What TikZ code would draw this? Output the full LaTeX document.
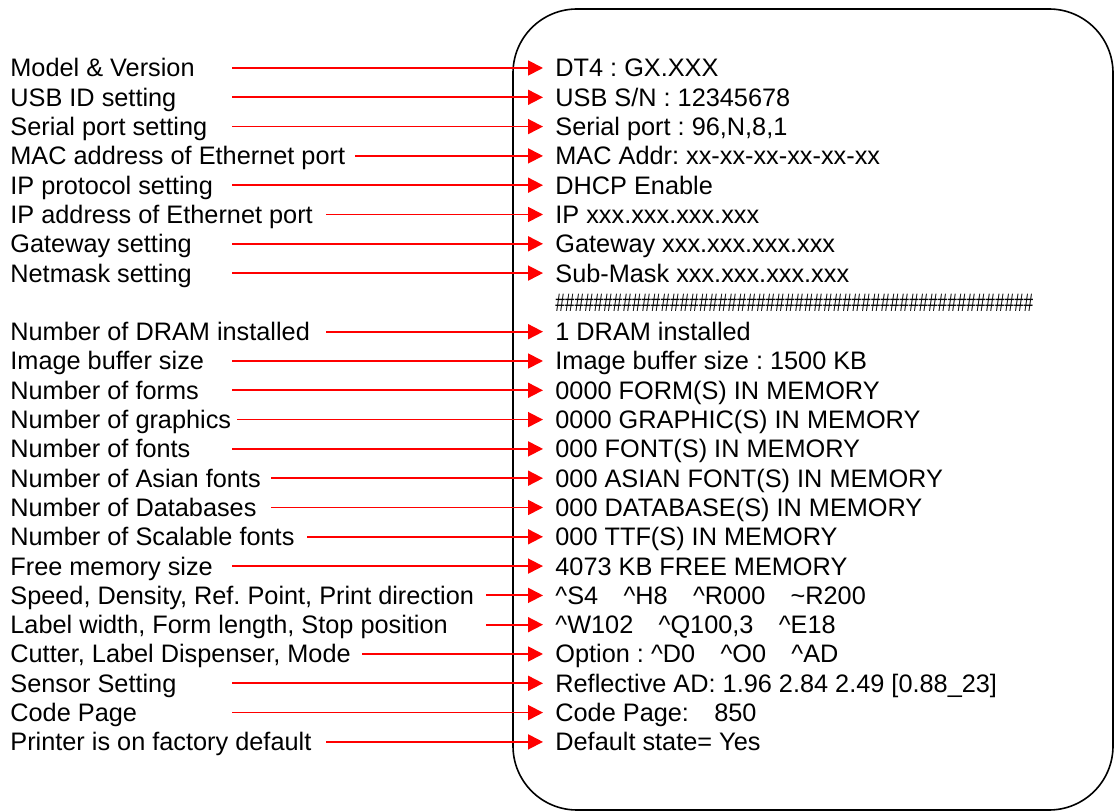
\documentclass[tikz,border=0pt]{standalone}
\usepackage{fontspec}
\setmainfont{Liberation Sans}
\usepackage{graphicx}
\usetikzlibrary{arrows.meta}
\frenchspacing

\begin{document}
\begin{tikzpicture}[x=0.5pt,y=-0.5pt,
	lbl/.style={anchor=west,inner sep=0pt,text height=9pt,text depth=0pt,font=\fontsize{12.65pt}{15pt}\selectfont},
	val/.style={lbl,inner xsep=6pt},
	arr/.style={red,line width=0.9pt,-{Triangle[length=7.5pt,width=7.5pt]}}]
	\useasboundingbox (0,0) rectangle (1115,812);
	\draw [line width=0.8pt,rounded corners=32pt] (513,9) rectangle (1113,810);
	% arrow start columns
	\coordinate (c1) at (232,0);
	\coordinate (c2) at (237,0);
	\coordinate (c3) at (271,0);
	\coordinate (c4) at (307,0);
	\coordinate (c5) at (326,0);
	\coordinate (c6) at (355,0);
	\coordinate (c7) at (362,0);
	\coordinate (c8) at (486,0);
	% settings
	\node[lbl] (l1) at (10, 68.0) {Model \& Version};
	\node[lbl] (l2) at (10, 97.3) {USB ID setting};
	\node[lbl] (l3) at (10, 126.6) {Serial port setting};
	\node[lbl] (l4) at (10, 155.9) {MAC address of Ethernet port};
	\node[lbl] (l5) at (10, 185.2) {IP protocol setting};
	\node[lbl] (l6) at (10, 214.5) {IP address of Ethernet port};
	\node[lbl] (l7) at (10, 243.8) {Gateway setting};
	\node[lbl] (l8) at (10, 273.1) {Netmask setting};
	\node[lbl] (l9) at (10, 331.7) {Number of DRAM installed};
	\node[lbl] (l10) at (10, 361.0) {Image buffer size};
	\node[lbl] (l11) at (10, 390.3) {Number of forms};
	\node[lbl] (l12) at (10, 419.6) {Number of graphics};
	\node[lbl] (l13) at (10, 448.9) {Number of fonts};
	\node[lbl] (l14) at (10, 478.2) {Number of Asian fonts};
	\node[lbl] (l15) at (10, 507.5) {Number of Databases};
	\node[lbl] (l16) at (10, 536.8) {Number of Scalable fonts};
	\node[lbl] (l17) at (10, 566.1) {Free memory size};
	\node[lbl] (l18) at (10, 595.4) {Speed, Density, Ref. Point, Print direction};
	\node[lbl] (l19) at (10, 624.7) {Label width, Form length, Stop position};
	\node[lbl] (l20) at (10, 654.0) {Cutter, Label Dispenser, Mode};
	\node[lbl] (l21) at (10, 683.3) {Sensor Setting};
	\node[lbl] (l22) at (10, 712.6) {Code Page};
	\node[lbl] (l23) at (10, 741.9) {Printer is on factory default};
	% printout
	\node[val] (r1) at (543, 68.0) {DT4 : GX.XXX};
	\node[val] (r2) at (543, 97.3) {USB S/N : 12345678};
	\node[val] (r3) at (543, 126.6) {Serial port : 96,N,8,1};
	\node[val] (r4) at (543, 155.9) {MAC Addr: xx-xx-xx-xx-xx-xx};
	\node[val] (r5) at (543, 185.2) {DHCP Enable};
	\node[val] (r6) at (543, 214.5) {IP xxx.xxx.xxx.xxx};
	\node[val] (r7) at (543, 243.8) {Gateway xxx.xxx.xxx.xxx};
	\node[val] (r8) at (543, 273.1) {Sub-Mask xxx.xxx.xxx.xxx};
	\node[val] (h) at (543, 302.4) {\resizebox{239pt}{\height}{\#\#\#\#\#\#\#\#\#\#\#\#\#\#\#\#\#\#\#\#\#\#\#\#\#\#\#\#\#\#\#\#\#\#\#\#\#\#\#\#\#\#\#\#\#\#\#\#\#\#}};
	\node[val] (r9) at (543, 331.7) {1 DRAM installed};
	\node[val] (r10) at (543, 361.0) {Image buffer size : 1500 KB};
	\node[val] (r11) at (543, 390.3) {0000 FORM(S) IN MEMORY};
	\node[val] (r12) at (543, 419.6) {0000 GRAPHIC(S) IN MEMORY};
	\node[val] (r13) at (543, 448.9) {000 FONT(S) IN MEMORY};
	\node[val] (r14) at (543, 478.2) {000 ASIAN FONT(S) IN MEMORY};
	\node[val] (r15) at (543, 507.5) {000 DATABASE(S) IN MEMORY};
	\node[val] (r16) at (543, 536.8) {000 TTF(S) IN MEMORY};
	\node[val] (r17) at (543, 566.1) {4073 KB FREE MEMORY};
	\node[val] (r18) at (543, 595.4) {\textasciicircum S4\quad\textasciicircum H8\quad\textasciicircum R000\quad\textasciitilde R200};
	\node[val] (r19) at (543, 624.7) {\textasciicircum W102\quad\textasciicircum Q100,3\quad\textasciicircum E18};
	\node[val] (r20) at (543, 654.0) {Option : \textasciicircum D0\quad\textasciicircum O0\quad\textasciicircum AD};
	\node[val] (r21) at (543, 683.3) {Reflective AD: 1.96 2.84 2.49 [0.88\_23]};
	\node[val] (r22) at (543, 712.6) {Code Page:\quad 850};
	\node[val] (r23) at (543, 741.9) {Default state= Yes};
	% arrows
	\draw [arr] (l1 -| c1) to (r1.west);
	\draw [arr] (l2 -| c1) to (r2.west);
	\draw [arr] (l3 -| c1) to (r3.west);
	\draw [arr] (l4 -| c6) to (r4.west);
	\draw [arr] (l5 -| c1) to (r5.west);
	\draw [arr] (l6 -| c5) to (r6.west);
	\draw [arr] (l7 -| c1) to (r7.west);
	\draw [arr] (l8 -| c1) to (r8.west);
	\draw [arr] (l9 -| c5) to (r9.west);
	\draw [arr] (l10 -| c1) to (r10.west);
	\draw [arr] (l11 -| c1) to (r11.west);
	\draw [arr] (l12 -| c2) to (r12.west);
	\draw [arr] (l13 -| c1) to (r13.west);
	\draw [arr] (l14 -| c3) to (r14.west);
	\draw [arr] (l15 -| c3) to (r15.west);
	\draw [arr] (l16 -| c4) to (r16.west);
	\draw [arr] (l17 -| c1) to (r17.west);
	\draw [arr] (l18 -| c8) to (r18.west);
	\draw [arr] (l19 -| c8) to (r19.west);
	\draw [arr] (l20 -| c7) to (r20.west);
	\draw [arr] (l21 -| c1) to (r21.west);
	\draw [arr] (l22 -| c1) to (r22.west);
	\draw [arr] (l23 -| c5) to (r23.west);
\end{tikzpicture}
\end{document}
